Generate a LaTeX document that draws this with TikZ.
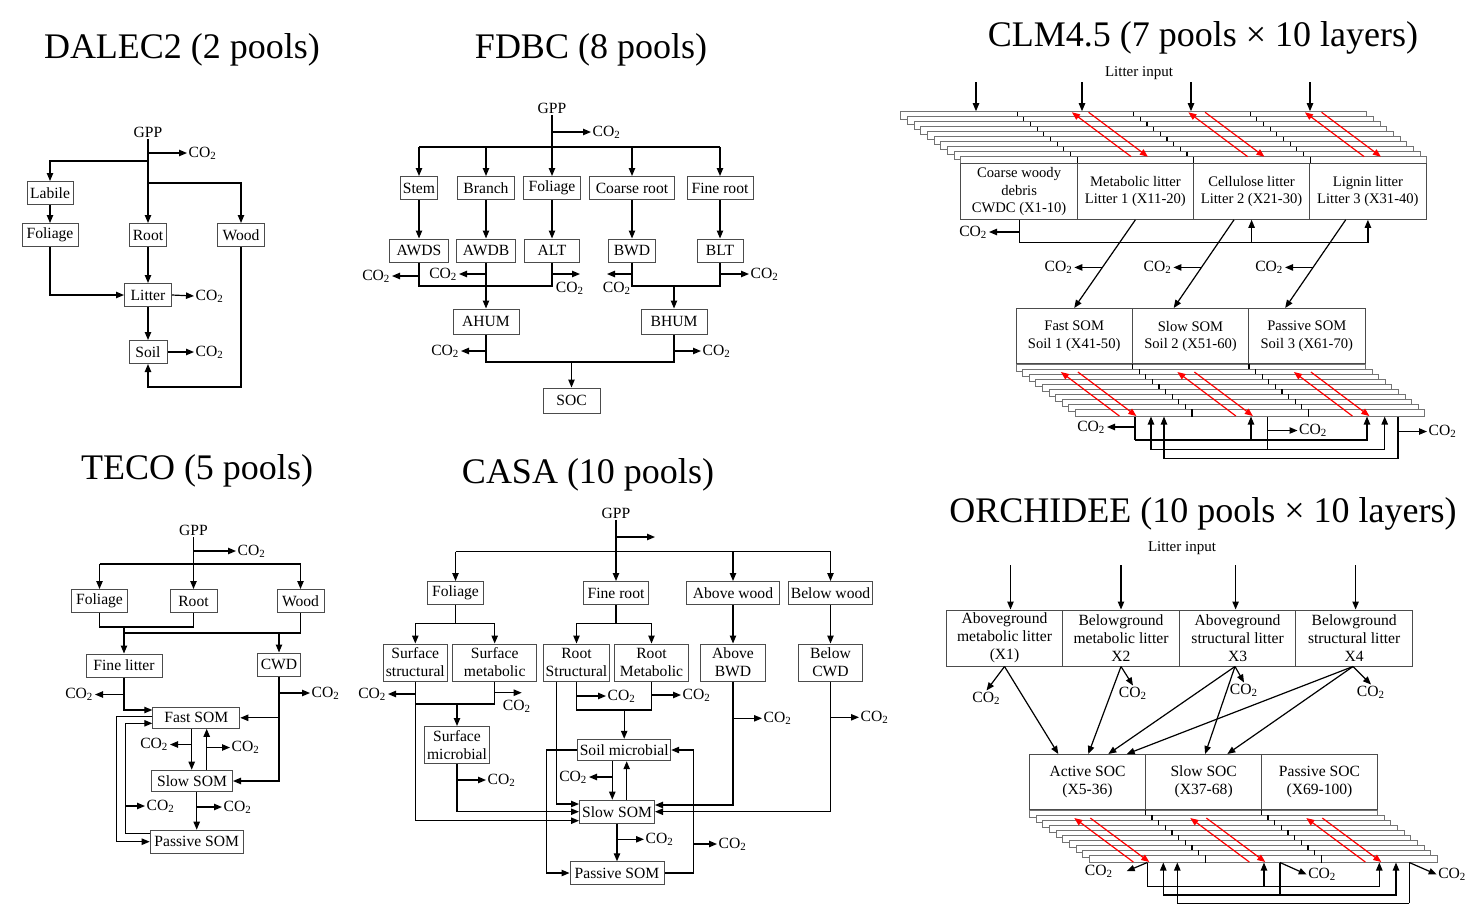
\documentclass[tikz,border=0pt]{standalone}
\usepackage{fontspec}
\setmainfont{Liberation Serif}
\usetikzlibrary{arrows.meta}
\newcommand{\cotwo}{CO\textsubscript{2}}
\tikzset{
  heading/.style={font=\fontsize{18}{20}\selectfont, inner sep=0pt},
  pool/.style={draw=black!70, line width=0.5pt, fill=white, align=center, inner sep=1pt, minimum height=11.5pt, font=\fontsize{7.8}{9}\selectfont},
  bin/.style={pool, minimum width=58.2pt, minimum height=27.7pt, font=\fontsize{7.3}{8.6}\selectfont},
  gas/.style={inner sep=0.5pt, font=\fontsize{7.8}{9}\selectfont},
  sheet/.style={draw=black!55, line width=0.45pt, fill=white},
  mix/.style={->, red, line width=0.6pt},
}
\begin{document}
\begin{tikzpicture}[x=0.5pt, y=-0.5pt, line width=0.6pt, >={Triangle[length=4pt,width=3.2pt]}]
\useasboundingbox (0,0) rectangle (1480,912);

% DALEC2
\begin{scope}
\node[heading] (d-title) at (182,50) {DALEC2 (2 pools)};
\node[gas] (d-gpp) at (148,132) {GPP};
\node[pool, minimum width=23pt] (d-lab) at (50,193) {Labile};
\node[pool, minimum width=28pt] (d-fol) at (50,235) {Foliage};
\node[pool, minimum width=18.5pt] (d-root) at (148,235) {Root};
\node[pool, minimum width=23.5pt] (d-wood) at (241,235) {Wood};
\node[pool, minimum width=23.5pt] (d-lit) at (148,295) {Litter};
\node[pool, minimum width=19pt] (d-soil) at (148,352) {Soil};
\node[gas, anchor=west] (d-c1) at (187,153) {\cotwo};
\node[gas, anchor=west] (d-c2) at (194,296) {\cotwo};
\node[gas, anchor=west] (d-c3) at (194,352) {\cotwo};
\coordinate (d-s1) at (148,161);
\coordinate (d-s2) at (148,183);
\coordinate (d-s3) at (241,387);
\draw[->] (d-gpp.south) -- (d-root.north);
\draw[->] (d-gpp.south |- d-c1.west) -- (d-c1.west);
\draw[->] (d-s1) -| (d-lab.north);
\draw[->] (d-s2) -| (d-wood.north);
\draw[->] (d-lab) -- (d-fol);
\draw[->] (d-fol.south) |- (d-lit.west);
\draw[->] (d-root) -- (d-lit);
\draw[->] (d-lit) -- (d-soil);
\draw[->] (d-lit.east) -- (d-c2.west);
\draw[->] (d-soil.east) -- (d-c3.west);
\draw[->] (d-wood.south) -- (d-s3) -| (d-soil.south);
\end{scope}

% FDBC
\begin{scope}
\node[heading] (f-title) at (591,50) {FDBC (8 pools)};
\node[gas] (f-gpp) at (552,108) {GPP};
\node[pool, minimum width=18.5pt] (f-stem) at (419,188) {Stem};
\node[pool, minimum width=28.5pt] (f-branch) at (486,188) {Branch};
\node[pool, minimum width=28.5pt] (f-fol) at (552,188) {Foliage};
\node[pool, minimum width=42.5pt] (f-coarse) at (632,188) {Coarse root};
\node[pool, minimum width=33pt] (f-fine) at (720,188) {Fine root};
\node[pool, minimum width=29.5pt] (f-awds) at (419,250.5) {AWDS};
\node[pool, minimum width=29.5pt] (f-awdb) at (486,250.5) {AWDB};
\node[pool, minimum width=27.5pt] (f-alt) at (552,250.5) {ALT};
\node[pool, minimum width=23.5pt] (f-bwd) at (632,250.5) {BWD};
\node[pool, minimum width=23pt] (f-blt) at (720,250.5) {BLT};
\node[pool, minimum width=33pt, minimum height=12.5pt] (f-ahum) at (486,321.5) {AHUM};
\node[pool, minimum width=33pt, minimum height=12.5pt] (f-bhum) at (674,321.5) {BHUM};
\node[pool, minimum width=28.5pt, minimum height=12.5pt] (f-soc) at (571.5,400.5) {SOC};
\node[gas, anchor=west] (f-c0) at (591,132) {\cotwo};
\node[gas, anchor=east] (f-c1) at (392,276) {\cotwo};
\node[gas, anchor=east] (f-c2) at (459,274) {\cotwo};
\node[gas] (f-c3) at (570,288) {\cotwo};
\node[gas] (f-c4) at (617,288) {\cotwo};
\node[gas, anchor=west] (f-c5) at (749,274) {\cotwo};
\node[gas, anchor=east] (f-c6) at (461,351) {\cotwo};
\node[gas, anchor=west] (f-c7) at (701,351) {\cotwo};
\coordinate (f-bar) at (552,147);
\coordinate (f-low) at (552,286);
\coordinate (f-hum) at (571.5,362);
\coordinate (f-e3) at (580,274);
\coordinate (f-e4) at (607,274);
\draw[->] (f-gpp.south) -- (f-fol.north);
\draw[->] (f-gpp.south |- f-c0.west) -- (f-c0.west);
\draw (f-stem.north |- f-bar) -- (f-fine.north |- f-bar);
\draw[->] (f-stem.north |- f-bar) -- (f-stem.north);
\draw[->] (f-branch.north |- f-bar) -- (f-branch.north);
\draw[->] (f-coarse.north |- f-bar) -- (f-coarse.north);
\draw[->] (f-fine.north |- f-bar) -- (f-fine.north);
\draw[->] (f-stem) -- (f-awds);
\draw[->] (f-branch) -- (f-awdb);
\draw[->] (f-fol) -- (f-alt);
\draw[->] (f-coarse) -- (f-bwd);
\draw[->] (f-fine) -- (f-blt);
\draw (f-awds.south) |- (f-alt.south |- f-low) -- (f-alt.south);
\draw[->] (f-awdb) -- (f-ahum);
\draw[->] (f-awds.south |- f-c1.east) -- (f-c1.east);
\draw[->] (f-awdb.south |- f-c2.east) -- (f-c2.east);
\draw[->] (f-alt.south |- f-e3) -- (f-e3);
\draw[->] (f-bwd.south |- f-e4) -- (f-e4);
\draw (f-bwd.south) |- (f-blt.south |- f-low) -- (f-blt.south);
\draw[->] (f-bhum.north |- f-low) -- (f-bhum.north);
\draw[->] (f-blt.south |- f-c5.west) -- (f-c5.west);
\draw (f-ahum.south) |- (f-bhum.south |- f-hum) -- (f-bhum.south);
\draw[->] (f-hum) -- (f-soc.north);
\draw[->] (f-ahum.south |- f-c6.east) -- (f-c6.east);
\draw[->] (f-bhum.south |- f-c7.west) -- (f-c7.west);
\end{scope}

% TECO
\begin{scope}
\node[heading] (t-title) at (197,471) {TECO (5 pools)};
\node[gas] (t-gpp) at (193.5,530) {GPP};
\node[pool, minimum width=28pt] (t-fol) at (99.5,601) {Foliage};
\node[pool, minimum width=23.5pt] (t-root) at (193.5,601) {Root};
\node[pool, minimum width=23.5pt] (t-wood) at (300.5,601) {Wood};
\node[pool, minimum width=38pt] (t-lit) at (124,665.5) {Fine litter};
\node[pool, minimum width=21.5pt] (t-cwd) at (279,664.5) {CWD};
\node[pool, minimum width=43.5pt, minimum height=10.5pt] (t-fast) at (196.3,717.8) {Fast SOM};
\node[pool, minimum width=40.5pt, minimum height=10.8pt] (t-slow) at (192,781) {Slow SOM};
\node[pool, minimum width=46.5pt] (t-pas) at (196.7,841.7) {Passive SOM};
\node[gas, anchor=west] (t-c0) at (236,551) {\cotwo};
\node[gas, anchor=east] (t-c1) at (95,694.5) {\cotwo};
\node[gas, anchor=west] (t-c2) at (310,693) {\cotwo};
\node[gas, anchor=east] (t-c3) at (170,744.5) {\cotwo};
\node[gas, anchor=west] (t-c4) at (230,747.5) {\cotwo};
\node[gas, anchor=west] (t-c5) at (222,807) {\cotwo};
\node[gas, anchor=west] (t-c6) at (145,806) {\cotwo};
\coordinate (t-bar) at (193.5,564);
\coordinate (t-l1) at (124,627);
\coordinate (t-l2) at (124,633);
\coordinate (t-x1) at (191.7,0);
\coordinate (t-x2) at (206.7,0);
\draw[->] (t-gpp.south) -- (t-root.north);
\draw[->] (t-gpp.south |- t-c0.west) -- (t-c0.west);
\draw (t-fol.north |- t-bar) -- (t-wood.north |- t-bar);
\draw[->] (t-fol.north |- t-bar) -- (t-fol.north);
\draw[->] (t-wood.north |- t-bar) -- (t-wood.north);
\draw (t-fol.south) |- (t-root.south |- t-l1) -- (t-root.south);
\draw (t-wood.south) |- (t-l2);
\draw[->] (t-l1) -- (t-lit.north);
\draw[->] (t-cwd.north |- t-l2) -- (t-cwd.north);
\draw[->] (t-lit.south) |- ([yshift=3.9pt]t-fast.west);
\draw[->] (t-lit.south |- t-c1.east) -- (t-c1.east);
\draw[->] (t-cwd.south) |- (t-slow.east);
\draw[->] (t-cwd.south |- t-fast.east) -- (t-fast.east);
\draw[->] (t-cwd.south |- t-c2.west) -- (t-c2.west);
\draw[->] (t-fast.south -| t-x1) -- (t-slow.north -| t-x1);
\draw[->] (t-x1 |- t-c3.east) -- (t-c3.east);
\draw[->] (t-slow.north -| t-x2) -- (t-fast.south -| t-x2);
\draw[->] (t-x2 |- t-c4.west) -- (t-c4.west);
\draw[->] (t-slow.south -| t-pas.north) -- (t-pas.north);
\draw[->] (t-pas.north |- t-c5.west) -- (t-c5.west);
\draw[->] ([yshift=4.2pt]t-pas.west) -- ++(-24,0) coordinate (t-k) |- ([yshift=-2.75pt]t-fast.west);
\draw[->] (t-k |- t-c6.west) -- (t-c6.west);
\draw[->] ([yshift=0.5pt]t-fast.west) -- ++(-36,0) |- (t-pas.west);
\end{scope}

% CASA
\begin{scope}
\node[heading] (c-title) at (588,475) {CASA (10 pools)};
\node[gas] (c-gpp) at (616,513) {GPP};
\node[pool, minimum width=28pt] (c-fol) at (455.5,593) {Foliage};
\node[pool, minimum width=32.5pt] (c-froot) at (616,593) {Fine root};
\node[pool, minimum width=46.5pt] (c-awood) at (733,593) {Above wood};
\node[pool, minimum width=41.5pt] (c-bwood) at (830.5,593) {Below wood};
\node[pool, minimum width=32pt, minimum height=18.5pt] (c-sstr) at (415.3,662.5) {Surface\\structural};
\node[pool, minimum width=42pt, minimum height=18.5pt] (c-smet) at (494.7,662.5) {Surface\\metabolic};
\node[pool, minimum width=32.5pt, minimum height=18.5pt] (c-rstr) at (576.5,662.5) {Root\\Structural};
\node[pool, minimum width=37pt, minimum height=18.5pt] (c-rmet) at (651.5,662.5) {Root\\Metabolic};
\node[pool, minimum width=32.5pt, minimum height=18.5pt] (c-abwd) at (733,662.5) {Above\\BWD};
\node[pool, minimum width=32pt, minimum height=18.5pt] (c-bcwd) at (830.5,662.5) {Below\\CWD};
\node[pool, minimum width=32.5pt, minimum height=18.5pt] (c-smic) at (457,745) {Surface\\microbial};
\node[pool, minimum width=46.5pt, minimum height=10.7pt] (c-soilm) at (624.2,750) {Soil microbial};
\node[pool, minimum width=37.5pt] (c-slow) at (617,811.7) {Slow SOM};
\node[pool, minimum width=47pt, minimum height=11.2pt] (c-pas) at (617,873) {Passive SOM};
\node[gas, anchor=east] (c-c1) at (388,694) {\cotwo};
\node[gas] (c-c2) at (517,706) {\cotwo};
\node[gas, anchor=west] (c-c3) at (486,780) {\cotwo};
\node[gas, anchor=west] (c-c4) at (606,696) {\cotwo};
\node[gas, anchor=west] (c-c5) at (681,695) {\cotwo};
\node[gas, anchor=east] (c-c6) at (589,777) {\cotwo};
\node[gas, anchor=west] (c-c7) at (762,718.3) {\cotwo};
\node[gas, anchor=west] (c-c8) at (859,717.3) {\cotwo};
\node[gas, anchor=west] (c-c9) at (717,844) {\cotwo};
\node[gas, anchor=west] (c-c10) at (644,839.3) {\cotwo};
\coordinate (c-e0) at (655,537);
\coordinate (c-e2) at (521.7,692.7);
\coordinate (c-bar) at (616,551.7);
\coordinate (c-l1) at (455.5,623.3);
\coordinate (c-l2) at (616,623.3);
\coordinate (c-l3) at (457,704);
\coordinate (c-l4) at (624.2,710);
\coordinate (c-x1) at (556.7,0);
\coordinate (c-x2) at (612.3,0);
\coordinate (c-x3) at (626.7,0);
\draw[->] (c-gpp.south) -- (c-froot.north);
\draw[->] (c-gpp.south |- c-e0) -- (c-e0);
\draw (c-fol.north |- c-bar) -- (c-bwood.north |- c-bar);
\draw[->] (c-fol.north |- c-bar) -- (c-fol.north);
\draw[->] (c-awood.north |- c-bar) -- (c-awood.north);
\draw[->] (c-bwood.north |- c-bar) -- (c-bwood.north);
\draw (c-fol.south) -- (c-l1);
\draw[->] (c-l1) -| (c-sstr.north);
\draw[->] (c-l1) -| (c-smet.north);
\draw (c-froot.south) -- (c-l2);
\draw[->] (c-l2) -| (c-rstr.north);
\draw[->] (c-l2) -| (c-rmet.north);
\draw[->] (c-awood) -- (c-abwd);
\draw[->] (c-bwood) -- (c-bcwd);
\draw[->] (c-sstr.south) |- ([yshift=-4.5pt]c-slow.west);
\draw[->] (c-sstr.south |- c-c1.east) -- (c-c1.east);
\draw (c-smet.south) |- (c-sstr.south |- c-l3);
\draw[->] (c-l3) -- (c-smic.north);
\draw[->] (c-smet.south |- c-e2) -- (c-e2);
\draw[->] (c-smic.south) |- (c-slow.west);
\draw[->] (c-smic.south |- c-c3.west) -- (c-c3.west);
\draw[->] (c-rstr.south -| c-x1) |- ([yshift=3.85pt]c-slow.west);
\draw (c-rstr.south) |- (c-rmet.south |- c-l4) -- (c-rmet.south);
\draw[->] (c-rstr.south |- c-c4.west) -- (c-c4.west);
\draw[->] (c-rmet.south |- c-c5.west) -- (c-c5.west);
\draw[->] (c-l4) -- (c-soilm.north);
\draw[->] (c-soilm.south -| c-x2) -- (c-slow.north -| c-x2);
\draw[->] (c-slow.north -| c-x3) -- (c-soilm.south -| c-x3);
\draw[->] (c-x2 |- c-c6.east) -- (c-c6.east);
\draw[->] (c-soilm.west) -- ++(-31,0) |- (c-pas.west);
\draw[->] (c-abwd.south) |- ([yshift=3.35pt]c-slow.east);
\draw[->] (c-abwd.south |- c-c7.west) -- (c-c7.west);
\draw[->] (c-bcwd.south) |- (c-slow.east);
\draw[->] (c-bcwd.south |- c-c8.west) -- (c-c8.west);
\draw[->] (c-pas.east) -- ++(29,0) coordinate (c-k) |- (c-soilm.east);
\draw[->] (c-k |- c-c9.west) -- (c-c9.west);
\draw[->] (c-slow) -- (c-pas);
\draw[->] (c-slow.south |- c-c10.west) -- (c-c10.west);
\end{scope}

% CLM4.5: litter sheets, litter pools, soil pools, soil sheets
\begin{scope}
\node[heading] (m-title) at (1203,38) {CLM4.5 (7 pools × 10 layers)};
\node[gas, font=\fontsize{7.5}{9}\selectfont] (m-in) at (1139,73) {Litter input};
\foreach \i in {0,...,9} {
  \draw[sheet] (900.6+6.68*\i,111.7+5*\i) rectangle ++(466,7.5);
  \foreach \k in {1,2,3}
    \draw (900.6+6.68*\i+116.5*\k,111.7+5*\i) -- ++(0,7.5);
}
\foreach \d in {1077.2,1193.7,1310.2} {
  \draw[mix] (\d+54,156.7) -- (\d-5.3,112.3);
  \draw[mix] (\d+11.4,112.3) -- (\d+70.7,156.7);
}
\foreach \x in {976,1082,1191,1310}
  \draw[<-] (\x,111.2) -- (\x,82);
\node[bin] (m-cwd) at (1019.1,191.6) {Coarse woody\\debris\\CWDC (X1-10)};
\node[bin] (m-met) at (1135.4,191.6) {Metabolic litter\\Litter 1 (X11-20)};
\node[bin] (m-cel) at (1251.6,191.6) {Cellulose litter\\Litter 2 (X21-30)};
\node[bin] (m-lig) at (1367.9,191.6) {Lignin litter\\Litter 3 (X31-40)};
\node[bin] (m-fast) at (1074.2,336.2) {Fast SOM\\Soil 1 (X41-50)};
\node[bin] (m-slow) at (1190.5,336.2) {Slow SOM\\Soil 2 (X51-60)};
\node[bin] (m-pas) at (1306.8,336.2) {Passive SOM\\Soil 3 (X61-70)};
\foreach \i in {0,...,9} {
  \draw[sheet] (1016+6.6*\i,364+5*\i) rectangle ++(349.5,7.5);
  \foreach \k in {1,2}
    \draw (1016+6.6*\i+116.5*\k,364+5*\i) -- ++(0,7.5);
}
\foreach \s in {1075.4,1191.9,1308.4} {
  \draw[mix] (\s+44,416) -- (\s-14.5,372);
  \draw[mix] (\s+2.5,372) -- (\s+61,416);
}
\node[gas, anchor=east] (m-c0) at (989,232) {\cotwo};
\coordinate (m-l1) at (1019.1,242.7);
\draw (m-cwd.south) -- (m-l1) -- (m-lig.south |- m-l1);
\draw[->] (m-cel.south |- m-l1) -- (m-cel.south);
\draw[->] (m-lig.south |- m-l1) -- (m-lig.south);
\draw[->] (m-cwd.south |- m-c0.east) -- (m-c0.east);
\draw[->] (m-met.south) -- (m-fast.north) coordinate[pos=0.54] (m-j1);
\draw[->] ([xshift=-8.8pt]m-cel.south) -- ([xshift=-8.4pt]m-slow.north) coordinate[pos=0.54] (m-j2);
\draw[->] ([xshift=-11.1pt]m-lig.south) -- ([xshift=-10.8pt]m-pas.north) coordinate[pos=0.54] (m-j3);
\draw[->] (m-j1) -- ++(-28,0) node[gas, left] (m-c1) {\cotwo};
\draw[->] (m-j2) -- ++(-28,0) node[gas, left] (m-c2) {\cotwo};
\draw[->] (m-j3) -- ++(-28,0) node[gas, left] (m-c3) {\cotwo};
% soil exchanges under the sheets
\coordinate (m-o1) at (1135,416.5);
\coordinate (m-o2) at (1267.5,416.5);
\coordinate (m-o3) at (1398,416.5);
\coordinate (m-i12) at (1251,416.5);
\coordinate (m-i13) at (1367,416.5);
\coordinate (m-i21) at (1151,416.5);
\coordinate (m-i23) at (1384.7,416.5);
\coordinate (m-i31) at (1164,416.5);
\draw (m-o1) -- ++(0,23.5) coordinate (m-h1);
\draw[->] (m-h1) -| (m-i12);
\draw[->] (m-h1) -| (m-i13);
\draw[->] ([yshift=-5.25pt]m-o1) -- ++(-28,0) node[gas, left] (m-c4) {\cotwo};
\draw (m-o2) -- ++(0,33) coordinate (m-h2);
\draw[->] (m-h2) -| (m-i21);
\draw[->] (m-h2) -| (m-i23);
\draw[->] ([yshift=-7pt]m-o2) -- ++(30,0) node[gas, right] (m-c5) {\cotwo};
\draw (m-o3) -- ++(0,42) coordinate (m-h3);
\draw[->] (m-h3) -| (m-i31);
\draw[->] ([yshift=-7.5pt]m-o3) -- ++(29,0) node[gas, right] (m-c6) {\cotwo};
\end{scope}

% ORCHIDEE: litter pools, soil pools, soil sheets
\begin{scope}
\node[heading] (o-title) at (1203,514) {ORCHIDEE (10 pools × 10 layers)};
\node[gas, font=\fontsize{7.5}{9}\selectfont] (o-in) at (1182,548) {Litter input};
\node[bin, minimum width=58.3pt, minimum height=28pt, font=\fontsize{7.8}{9}\selectfont] (o-x1) at (1004.5,638) {Aboveground\\metabolic litter\\(X1)};
\node[bin, minimum width=58.3pt, minimum height=28pt, font=\fontsize{7.8}{9}\selectfont] (o-x2) at (1121,638) {Belowground\\metabolic litter\\X2};
\node[bin, minimum width=58.3pt, minimum height=28pt, font=\fontsize{7.8}{9}\selectfont] (o-x3) at (1237.6,638) {Aboveground\\structural litter\\X3};
\node[bin, minimum width=58.3pt, minimum height=28pt, font=\fontsize{7.8}{9}\selectfont] (o-x4) at (1354.2,638) {Belowground\\structural litter\\X4};
\node[bin, minimum width=58pt, font=\fontsize{7.8}{9}\selectfont] (o-act) at (1087.5,782.2) {Active SOC\\(X5-36)};
\node[bin, minimum width=58pt, font=\fontsize{7.8}{9}\selectfont] (o-slow) at (1203.7,782.2) {Slow SOC\\(X37-68)};
\node[bin, minimum width=58pt, font=\fontsize{7.8}{9}\selectfont] (o-pas) at (1319.5,782.2) {Passive SOC\\(X69-100)};
\draw[<-] ([xshift=3pt]o-x1.north) -- ++(0,-45);
\draw[<-] (o-x2.north) -- ++(0,-45);
\draw[<-] ([xshift=-1pt]o-x3.north) -- ++(0,-45);
\draw[<-] ([xshift=0.7pt]o-x4.north) -- ++(0,-45);
\draw[->] (o-x1.south) -- ([xshift=-14.6pt]o-act.north);
\draw[->] (o-x2.south) -- ([xshift=0.4pt]o-act.north);
\draw[->] ([xshift=-1.3pt]o-x3.south) -- ([xshift=10.4pt]o-act.north);
\draw[->] ([xshift=-1.3pt]o-x3.south) -- ([xshift=0.7pt]o-slow.north);
\draw[->] ([xshift=-0.6pt]o-x4.south) -- ([xshift=19.6pt]o-act.north);
\draw[->] ([xshift=-0.6pt]o-x4.south) -- ([xshift=11.8pt]o-slow.north);
\draw[->] (o-x1.south) -- ++(-18,24) node[gas, below] (o-c1) {\cotwo};
\draw[->] (o-x2.south) -- ++(12,19) node[gas, below] (o-c2) {\cotwo};
\draw[->] ([xshift=-1.3pt]o-x3.south) -- ++(9,16) node[gas, below] (o-c3) {\cotwo};
\draw[->] ([xshift=-0.6pt]o-x4.south) -- ++(18,18) node[gas, below] (o-c4) {\cotwo};
\foreach \i in {0,...,9} {
  \draw[sheet] (1029.3+6.67*\i,810+5*\i) rectangle ++(348,7.5);
  \foreach \k in {1,2}
    \draw (1029.3+6.67*\i+116*\k,810+5*\i) -- ++(0,7.5);
}
\foreach \s in {1089.3,1205.3,1321.3} {
  \draw[mix] (\s+44,862) -- (\s-15,818);
  \draw[mix] (\s+1,818) -- (\s+60,862);
}
% soil exchanges under the sheets
\coordinate (o-o1) at (1147.3,862.5);
\coordinate (o-o2) at (1280,862.5);
\coordinate (o-o3) at (1409.3,862.5);
\coordinate (o-i12) at (1264,862.5);
\coordinate (o-i13) at (1379.3,862.5);
\coordinate (o-i21) at (1163.3,862.5);
\coordinate (o-i23) at (1396,862.5);
\coordinate (o-i31) at (1177.3,862.5);
\draw (o-o1) -- ++(0,24.2) coordinate (o-h1);
\draw[->] (o-h1) -| (o-i12);
\draw[->] (o-h1) -| (o-i13);
\draw[->] (o-o1) -- ++(-20.6,8.7) node[gas, left, xshift=-6pt] (o-c5) {\cotwo};
\draw (o-o2) -- ++(0,32.5) coordinate (o-h2);
\draw[->] (o-h2) -| (o-i21);
\draw[->] (o-h2) -| (o-i23);
\draw[->] (o-o2) -- ++(26.7,12) node[gas, right] (o-c6) {\cotwo};
\draw (o-o3) -- ++(0,40.8) coordinate (o-h3);
\draw[->] (o-h3) -| (o-i31);
\draw[->] (o-o3) -- ++(27.4,12) node[gas, right] (o-c7) {\cotwo};
\end{scope}
\end{tikzpicture}
\end{document}
